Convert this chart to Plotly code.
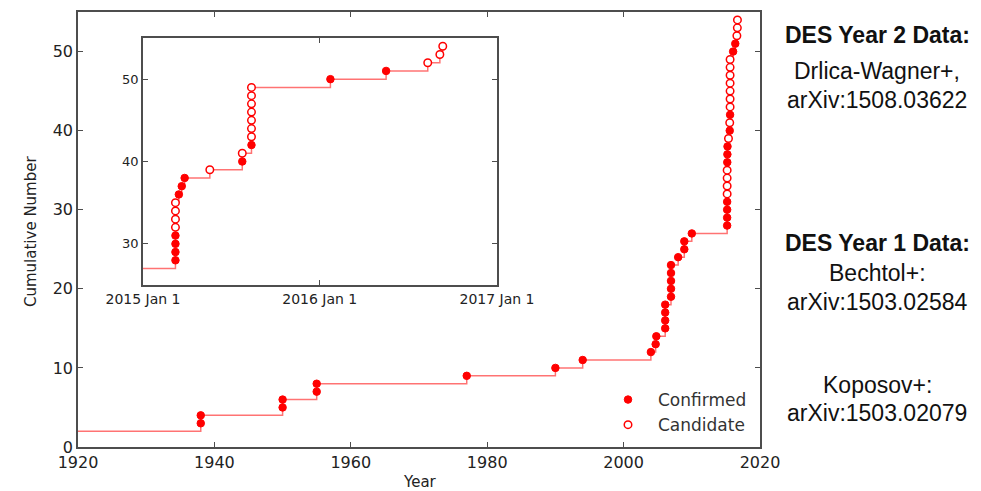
import pandas as pd
import plotly.graph_objects as go

# ---------------- data ----------------
# Starting level of the curve (left edge of the main chart)
start_year = 1920
start_count = 2

# Discoveries before 2015 (decimal year, cumulative number) - all confirmed
early_year = [1938, 1938, 1950, 1950, 1955, 1955, 1977, 1990, 1994,
              2004.0, 2004.7, 2004.8,
              2006.1, 2006.1, 2006.1, 2006.1,
              2006.95, 2006.95, 2006.95, 2006.95, 2006.95,
              2008.0, 2008.9, 2008.9, 2010.0]
early_count = [3, 4, 5, 6, 7, 8, 9, 10, 11,
               12, 13, 14,
               15, 16, 17, 18,
               19, 20, 21, 22, 23,
               24, 25, 26, 27]
early_confirmed = [True] * 25

# DES era discoveries (date, cumulative number, confirmed?)
des_date = ["2015-03-09"] * 8 + ["2015-03-16", "2015-03-22", "2015-03-28",
            "2015-05-19", "2015-07-25", "2015-07-25"] + ["2015-08-13"] * 8 + [
            "2016-01-23", "2016-05-17", "2016-08-11", "2016-09-05", "2016-09-11"]
des_count = list(range(28, 55))
des_confirmed = [True] * 4 + [False] * 4 + [True, True, True,
                 False, True, False] + [True] + [False] * 7 + [
                 True, True, False, False, False]

# axis ticks
main_x_ticks = [1920, 1940, 1960, 1980, 2000, 2020]
main_y_ticks = [0, 10, 20, 30, 40, 50]
inset_tick_dates = ["2015-01-01", "2016-01-01", "2017-01-01"]
inset_tick_labels = ["2015 Jan 1", "2016 Jan 1", "2017 Jan 1"]
inset_y_ticks = [30, 40, 50]

# ---------------- derived ----------------
dts = pd.to_datetime(des_date)
days_in_year = [366 if d.is_leap_year else 365 for d in dts]
des_year = [d.year + (d.dayofyear - 1) / n for d, n in zip(dts, days_in_year)]

all_year = early_year + des_year
all_count = early_count + des_count
all_conf = early_confirmed + des_confirmed

RED = "#ff0000"
LINE = "rgba(255,0,0,0.55)"
AXC = "#4d4d4d"
TXT = "#222222"
FONT = "DejaVu Sans"

OFF = 8  # page body margin of the browser
W, H = 981 - OFF, 491 - OFF
# plot area in page pixels: x 78..760, y 12..447
L, R, T, B = 78 - OFF, 981 - 760, 12 - OFF, 491 - 447
PW, PH = W - L - R, H - T - B


def px_x(p):
    return (p - OFF - L) / PW


def px_y(p):
    return (H - B - (p - OFF)) / PH


fig = go.Figure()

# main step line
fig.add_trace(go.Scatter(x=[start_year] + all_year, y=[start_count] + all_count,
                         mode="lines", line=dict(color=LINE, width=1.5, shape="hv"),
                         showlegend=False, hoverinfo="skip", xaxis="x", yaxis="y"))
cx = [x for x, c in zip(all_year, all_conf) if c]
cy = [y for y, c in zip(all_count, all_conf) if c]
ox = [x for x, c in zip(all_year, all_conf) if not c]
oy = [y for y, c in zip(all_count, all_conf) if not c]
fig.add_trace(go.Scatter(x=cx, y=cy, mode="markers", name="Confirmed",
                         marker=dict(symbol="circle", size=7.5, color=RED,
                                     line=dict(color=RED, width=1)),
                         xaxis="x", yaxis="y"))
fig.add_trace(go.Scatter(x=ox, y=oy, mode="markers", name="Candidate",
                         marker=dict(symbol="circle", size=7.5, color="white",
                                     line=dict(color=RED, width=1.5)),
                         xaxis="x", yaxis="y"))

# inset
fig.add_trace(go.Scatter(x=[inset_tick_dates[0]] + des_date, y=[des_count[0] - 1] + des_count,
                         mode="lines", line=dict(color=LINE, width=1.5, shape="hv"),
                         showlegend=False, hoverinfo="skip", xaxis="x2", yaxis="y2"))
icx = [x for x, c in zip(des_date, des_confirmed) if c]
icy = [y for y, c in zip(des_count, des_confirmed) if c]
iox = [x for x, c in zip(des_date, des_confirmed) if not c]
ioy = [y for y, c in zip(des_count, des_confirmed) if not c]
fig.add_trace(go.Scatter(x=icx, y=icy, mode="markers", showlegend=False,
                         marker=dict(symbol="circle", size=7.5, color=RED,
                                     line=dict(color=RED, width=1)),
                         xaxis="x2", yaxis="y2"))
fig.add_trace(go.Scatter(x=iox, y=ioy, mode="markers", showlegend=False,
                         marker=dict(symbol="circle", size=7.5, color="white",
                                     line=dict(color=RED, width=1.5)),
                         xaxis="x2", yaxis="y2"))

axis_common = dict(showline=True, linecolor=AXC, linewidth=1.6, mirror="ticks",
                   ticks="inside", ticklen=5, tickcolor=AXC, tickwidth=1,
                   showgrid=False, zeroline=False)

fig.update_layout(
    width=W, height=H,
    margin=dict(l=L, r=R, t=T, b=B, autoexpand=False),
    paper_bgcolor="white", plot_bgcolor="white",
    font=dict(family=FONT, color=TXT),
    xaxis=dict(range=[1920, 2020], tickvals=main_x_ticks,
               tickfont=dict(size=16, color=TXT), domain=[0, 1], **axis_common),
    yaxis=dict(range=[0, 55], tickvals=main_y_ticks,
               tickfont=dict(size=16, color=TXT), domain=[0, 1], **axis_common),
    xaxis2=dict(type="date", range=[inset_tick_dates[0], inset_tick_dates[-1]],
                tickvals=inset_tick_dates, ticktext=inset_tick_labels,
                tickfont=dict(size=14, color=TXT), anchor="y2",
                domain=[px_x(143), px_x(497)], **axis_common),
    yaxis2=dict(range=[25, 55], tickvals=inset_y_ticks,
                tickfont=dict(size=13, color=TXT), anchor="x2",
                domain=[px_y(285), px_y(38)], **axis_common),
    legend=dict(x=px_x(598), y=px_y(382), xanchor="left", yanchor="top",
                bgcolor="rgba(0,0,0,0)", font=dict(size=17, color="#333333"),
                itemwidth=50, tracegroupgap=2),
    showlegend=True,
)

ann = []
# axis titles
ann.append(dict(text="Cumulative Number", x=px_x(31), y=px_y(232), xref="paper", yref="paper",
                xanchor="center", yanchor="middle",
                textangle=-90, showarrow=False, font=dict(size=15, color=TXT, family=FONT)))
ann.append(dict(text="Year", x=px_x(420), y=px_y(482), xref="paper", yref="paper",
                xanchor="center", yanchor="middle",
                showarrow=False, font=dict(size=15, color=TXT, family=FONT)))

# right-hand references
ref_lines = [("<b>DES Year 2 Data:</b>", 35), ("Drlica-Wagner+,", 71), ("arXiv:1508.03622", 100),
             ("<b>DES Year 1 Data:</b>", 243), ("Bechtol+:", 273), ("arXiv:1503.02584", 302),
             ("Koposov+:", 385), ("arXiv:1503.02079", 413)]
for txt, py in ref_lines:
    ann.append(dict(text=txt, x=px_x(877), y=px_y(py), xref="paper", yref="paper",
                    xanchor="center", yanchor="middle", showarrow=False,
                    font=dict(size=23, color="#111111", family="Liberation Sans")))
fig.update_layout(annotations=ann)

fig.write_html("out.html")
